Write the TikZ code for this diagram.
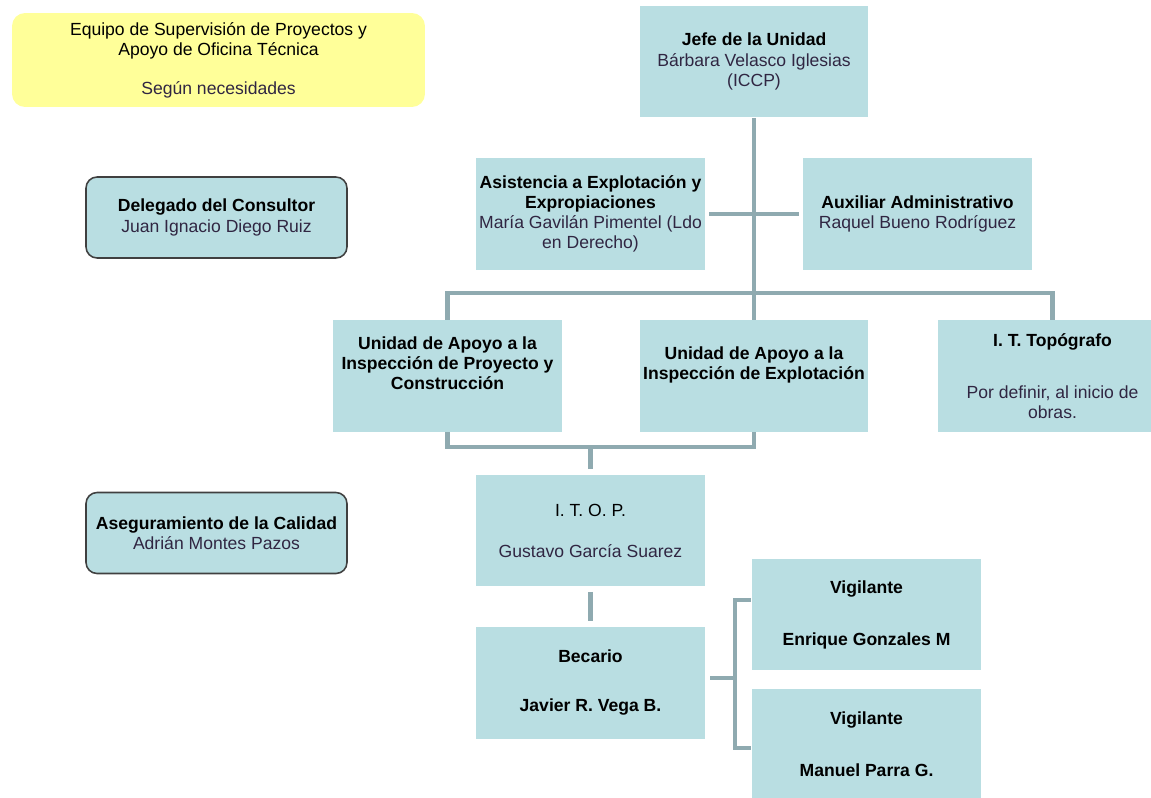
\documentclass[tikz,border=0pt]{standalone}
\usepackage{fontspec}
\setmainfont{Liberation Sans}
\usetikzlibrary{calc}
\definecolor{boxblue}{RGB}{185,222,226}
\definecolor{notepad}{RGB}{255,255,153}
\definecolor{linkgray}{RGB}{143,170,176}
\definecolor{namecol}{RGB}{48,38,66}
\definecolor{rimgray}{RGB}{64,64,64}
\newcommand{\who}[1]{\textcolor{namecol}{#1}}
\tikzset{
  unitbox/.style={rectangle, fill=boxblue, minimum width=4.58cm, minimum height=2.24cm,
    align=center, inner sep=1pt, font=\fontsize{10}{11.5}\selectfont},
  sidebox/.style={unitbox, draw=rimgray, line width=0.9pt, rounded corners=0.22cm,
    minimum width=5.22cm, minimum height=1.62cm},
  notebox/.style={unitbox, fill=notepad, rounded corners=0.26cm,
    minimum width=8.26cm, minimum height=1.88cm},
  link/.style={draw=linkgray, line width=2.4pt}
}

\begin{document}
\begin{tikzpicture}[x=0.02cm, y=-0.02cm]
  \useasboundingbox (0,0) rectangle (1151,797);

  % left column
  \node[notebox] (equipo) at (218.5,60) {Equipo de Supervisión de Proyectos y\\Apoyo de Oficina Técnica\\[10.7pt]\who{Según necesidades}};
  \node[sidebox] (delegado) at (216.5,217.5) {\textbf{Delegado del Consultor}\\\who{Juan Ignacio Diego Ruiz}};
  \node[sidebox] (calidad) at (216.5,533) {\textbf{Aseguramiento de la Calidad}\\\who{Adrián Montes Pazos}};

  % head and staff
  \node[unitbox] (jefe) at (754,61.5) {\textbf{Jefe de la Unidad}\\\who{Bárbara Velasco Iglesias}\\\who{(ICCP)}};
  \node[unitbox] (asist) at (590.5,214) {\textbf{Asistencia a Explotación y}\\\textbf{Expropiaciones}\\\who{María Gavilán Pimentel (Ldo}\\\who{en Derecho)}};
  \node[unitbox] (aux) at (917.5,214) {\textbf{Auxiliar Administrativo}\\\who{Raquel Bueno Rodríguez}};

  % support units
  \node[unitbox, font=\fontsize{10}{11.5}\selectfont\bfseries] (unid1) at (447.5,376) {Unidad de Apoyo a la\\Inspección de Proyecto y\\Construcción\\\strut};
  \node[unitbox, font=\fontsize{10}{11.5}\selectfont\bfseries] (unid2) at (754,376) {Unidad de Apoyo a la\\Inspección de Explotación\\\strut};
  \node[unitbox] (topo) at (1052.5,376) {\textbf{I. T. Topógrafo}\\[18.1pt]\who{Por definir, al inicio de}\\\who{obras.}};

  % site team
  \node[unitbox] (itop) at (590.5,530.5) {I. T. O. P.\\[11.8pt]\who{Gustavo García Suarez}};
  \node[unitbox, font=\fontsize{10}{11.5}\selectfont\bfseries] (becario) at (590.5,682.5) {Becario\\[16.4pt]Javier R. Vega B.};
  \node[unitbox, font=\fontsize{10}{11.5}\selectfont\bfseries] (vig1) at (866.5,614.5) {Vigilante\\[18.1pt]Enrique Gonzales M};
  \node[unitbox, font=\fontsize{10}{11.5}\selectfont\bfseries] (vig2) at (866.5,744.5) {Vigilante\\[18.1pt]Manuel Parra G.};

  % connectors
  \draw[link] (jefe.south) -- (unid2.north);
  \draw[link, shorten <=0.08cm, shorten >=0.08cm] (asist.east) -- (aux.west);
  \draw[link] (unid1.north) -- ++(0,-27) -| (topo.north);
  \draw[link] (unid1.south) -- ++(0,15) coordinate (lowbar) -| (unid2.south);
  \draw[link, shorten <=0.1cm] (itop.north) -- (itop.north |- lowbar);
  \draw[link, shorten <=0.1cm, shorten >=0.1cm] (itop.south) -- (becario.north);
  \draw[link] ($(becario.east)+(5,-4.5)$) -- ($(becario.east)+(31,-4.5)$);
  \draw[link] ($(vig1.west)+(-1,-14.5)$) -| ($(vig2.west)+(-17,3.5)$) -- ($(vig2.west)+(-1,3.5)$);
\end{tikzpicture}
\end{document}
